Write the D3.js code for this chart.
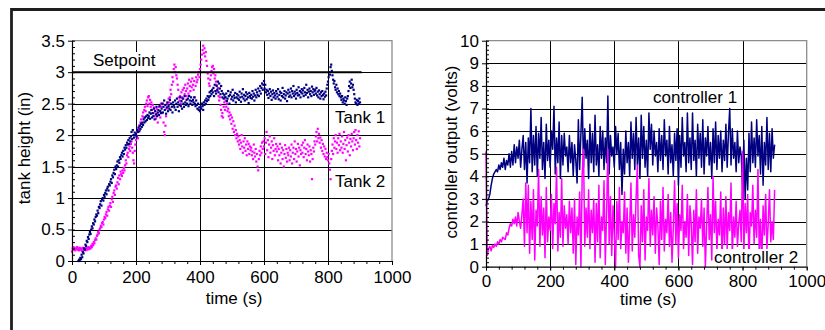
<!DOCTYPE html>
<html>
<head>
<meta charset="utf-8">
<script src="https://cdn.jsdelivr.net/npm/d3@7"></script>
<style>
  body { margin: 0; background: #fff; }
  svg { display: block; font-family: "Liberation Sans", Arial, sans-serif; }
</style>
</head>
<body>
<div id="chart"></div>
<script>
// ---- data ----
const timeTicks = [0, 200, 400, 600, 800, 1000];
const heightTicks = [0, 0.5, 1, 1.5, 2, 2.5, 3, 3.5];
const heightTickLabels = ["0", "0.5", "1", "1.5", "2", "2.5", "3", "3.5"];
const voltTicks = [0, 1, 2, 3, 4, 5, 6, 7, 8, 9, 10];

const setpointTimes = [0, 905];
const setpointValues = [3, 3];

// tank heights sampled every 2 s, 0..900 s (one row = 40 s)
const tankStep = 2;
const tank1 = [
  null, null, null, null, null, null, null, null, null, null, 0.0, 0.02, 0.0, 0.05, 0.03, 0.1, 0.06, 0.14, 0.12, 0.2,
  0.18, 0.26, 0.24, 0.32, 0.3, 0.38, 0.35, 0.42, 0.46, 0.43, 0.5, 0.55, 0.52, 0.6, 0.58, 0.66, 0.63, 0.7, 0.74, 0.72,
  0.8, 0.76, 0.86, 0.84, 0.9, 0.95, 0.88, 0.98, 1.0, 0.96, 1.05, 1.02, 1.08, 1.12, 1.06, 1.15, 1.18, 1.12, 1.22, 1.2,
  1.26, 1.3, 1.24, 1.36, 1.33, 1.4, 1.45, 1.38, 1.5, 1.46, 1.52, 1.58, 1.5, 1.6, 1.56, 1.65, 1.62, 1.68, 1.72, 1.66,
  1.75, 1.7, 1.8, 1.77, 1.84, 1.8, 1.88, 1.85, 1.92, 1.86, 1.95, 1.9, 1.98, 2.05, 1.94, 2.08, 2.0, 1.96, 2.04, 2.0,
  2.02, 1.98, 2.08, 2.05, 2.12, 2.06, 2.15, 2.1, 2.18, 2.13, 2.2, 2.16, 2.25, 2.2, 2.28, 2.22, 2.3, 2.24, 2.32, 2.27,
  2.3, 2.36, 2.26, 2.34, 2.4, 2.28, 2.35, 2.3, 2.42, 2.25, 2.38, 2.33, 2.45, 2.3, 2.36, 2.4, 2.32, 2.46, 2.38, 2.35,
  2.42, 2.5, 2.36, 2.45, 2.55, 2.4, 2.48, 2.34, 2.44, 2.52, 2.38, 2.46, 2.42, 2.56, 2.4, 2.5, 2.45, 2.36, 2.52, 2.47,
  2.44, 2.55, 2.4, 2.5, 2.58, 2.45, 2.52, 2.38, 2.48, 2.6, 2.46, 2.54, 2.42, 2.58, 2.5, 2.45, 2.62, 2.52, 2.48, 2.56,
  2.5, 2.58, 2.46, 2.62, 2.55, 2.5, 2.6, 2.54, 2.48, 2.56, 2.52, 2.6, 2.5, 2.46, 2.55, 2.48, 2.42, 2.5, 2.4, 2.44,
  2.38, 2.45, 2.42, 2.5, 2.46, 2.4, 2.52, 2.48, 2.55, 2.5, 2.58, 2.54, 2.62, 2.56, 2.6, 2.68, 2.62, 2.7, 2.65, 2.72,
  2.68, 2.75, 2.62, 2.8, 2.7, 2.66, 2.78, 2.72, 2.85, 2.68, 2.82, 2.74, 2.65, 2.78, 2.7, 2.6, 2.66, 2.58, 2.64, 2.6,
  2.6, 2.66, 2.54, 2.58, 2.7, 2.62, 2.5, 2.64, 2.68, 2.57, 2.61, 2.72, 2.55, 2.63, 2.59, 2.67, 2.52, 2.6, 2.65, 2.58,
  2.63, 2.56, 2.69, 2.6, 2.53, 2.66, 2.61, 2.73, 2.58, 2.64, 2.55, 2.62, 2.68, 2.57, 2.65, 2.6, 2.51, 2.67, 2.62, 2.59,
  2.64, 2.58, 2.7, 2.61, 2.66, 2.55, 2.63, 2.72, 2.6, 2.68, 2.64, 2.74, 2.62, 2.7, 2.78, 2.66, 2.75, 2.82, 2.72, 2.8,
  2.86, 2.74, 2.8, 2.68, 2.72, 2.64, 2.7, 2.59, 2.66, 2.73, 2.62, 2.69, 2.56, 2.65, 2.71, 2.6, 2.67, 2.63, 2.58, 2.7,
  2.66, 2.61, 2.73, 2.57, 2.64, 2.69, 2.55, 2.67, 2.62, 2.75, 2.6, 2.65, 2.7, 2.58, 2.63, 2.68, 2.54, 2.66, 2.72, 2.61,
  2.68, 2.63, 2.74, 2.6, 2.7, 2.66, 2.78, 2.62, 2.69, 2.65, 2.58, 2.72, 2.67, 2.63, 2.76, 2.64, 2.7, 2.6, 2.68, 2.73,
  2.66, 2.71, 2.62, 2.75, 2.68, 2.64, 2.8, 2.67, 2.72, 2.6, 2.69, 2.74, 2.65, 2.7, 2.62, 2.77, 2.68, 2.73, 2.64, 2.7,
  2.72, 2.66, 2.75, 2.63, 2.69, 2.6, 2.71, 2.65, 2.58, 2.68, 2.62, 2.7, 2.64, 2.57, 2.66, 2.61, 2.69, 2.63, 2.74, 2.8,
  2.85, 2.92, 3.0, 2.96, 3.08, 3.12, 3.02, 2.95, 2.88, 2.82, 2.86, 2.76, 2.72, 2.8, 2.68, 2.74, 2.65, 2.7, 2.62, 2.66,
  2.6, 2.56, 2.62, 2.52, 2.58, 2.55, 2.5, 2.6, 2.54, 2.48, 2.58, 2.62, 2.7, 2.78, 2.85, 2.75, 2.82, 2.88, 2.76, 2.8,
  2.72, 2.65, 2.58, 2.52, 2.5, 2.56, 2.48, 2.54, 2.5, 2.58, 2.52
];
const tank2 = [
  0.15, 0.2, 0.22, 0.18, 0.21, 0.17, 0.2, 0.19, 0.22, 0.18, 0.2, 0.17, 0.21, 0.19, 0.18, 0.2, 0.16, 0.21, 0.19, 0.18,
  0.2, 0.17, 0.19, 0.21, 0.18, 0.2, 0.22, 0.19, 0.21, 0.2, 0.24, 0.22, 0.27, 0.25, 0.3, 0.28, 0.33, 0.36, 0.34, 0.4,
  0.42, 0.46, 0.44, 0.5, 0.52, 0.56, 0.54, 0.6, 0.62, 0.58, 0.66, 0.7, 0.68, 0.74, 0.78, 0.72, 0.82, 0.86, 0.8, 0.88,
  0.92, 0.86, 0.98, 1.02, 0.94, 1.08, 1.12, 1.05, 1.18, 1.2, 1.15, 1.25, 1.32, 1.22, 1.36, 1.3, 1.42, 1.38, 1.35, 1.44,
  1.4, 1.48, 1.44, 1.52, 1.6, 1.55, 1.68, 1.72, 1.65, 1.78, 1.82, 1.75, 1.86, 1.9, 1.8, 1.72, 1.6, 1.55, 1.75, 1.85,
  1.92, 1.98, 2.05, 1.95, 2.1, 2.15, 2.08, 2.2, 2.25, 2.18, 2.3, 2.36, 2.28, 2.4, 2.45, 2.38, 2.5, 2.55, 2.46, 2.6,
  2.62, 2.5, 2.56, 2.45, 2.52, 2.4, 2.48, 2.35, 2.44, 2.3, 2.38, 2.26, 2.42, 2.34, 2.2, 2.32, 2.45, 2.38, 2.28, 2.5,
  2.45, 2.35, 2.5, 2.2, 2.05, 2.0, 2.15, 2.3, 2.42, 2.5, 2.45, 2.58, 2.52, 2.6, 2.72, 2.65, 2.8, 2.92, 2.85, 3.05,
  3.12, 3.0, 3.08, 2.95, 2.9, 2.8, 2.72, 2.6, 2.55, 2.62, 2.5, 2.68, 2.6, 2.72, 2.58, 2.75, 2.65, 2.8, 2.7, 2.62,
  2.74, 2.82, 2.66, 2.88, 2.78, 2.7, 2.85, 2.76, 2.9, 2.8, 2.72, 2.86, 2.6, 2.78, 2.92, 2.84, 2.88, 2.96, 3.0, 2.92,
  3.05, 3.12, 3.2, 3.28, 3.35, 3.42, 3.3, 3.38, 3.25, 3.32, 3.18, 3.1, 2.98, 2.9, 2.82, 2.78, 2.88, 2.95, 3.02, 3.08,
  3.1, 2.98, 3.05, 2.9, 2.95, 2.85, 2.8, 2.7, 2.75, 2.62, 2.55, 2.6, 2.48, 2.4, 2.3, 2.35, 2.28, 2.45, 2.52, 2.4,
  2.55, 2.45, 2.5, 2.38, 2.42, 2.3, 2.36, 2.25, 2.32, 2.18, 2.28, 2.1, 2.22, 2.05, 2.15, 2.0, 2.08, 1.95, 2.02, 1.9,
  1.98, 1.85, 1.92, 1.78, 1.88, 2.0, 1.82, 1.72, 1.9, 1.8, 1.95, 1.75, 1.85, 1.68, 1.9, 1.78, 1.86, 1.7, 1.82, 1.76,
  1.8, 1.68, 1.74, 1.62, 1.85, 1.72, 1.66, 1.78, 1.58, 1.7, 1.5, 1.44, 1.62, 1.75, 1.68, 1.82, 1.72, 1.88, 1.78, 1.9,
  1.82, 1.95, 1.7, 1.88, 2.05, 1.76, 1.92, 1.65, 1.85, 1.98, 1.72, 1.8, 1.9, 1.62, 1.84, 1.75, 1.95, 1.68, 1.78, 1.86,
  1.74, 1.82, 1.6, 1.78, 1.68, 1.86, 1.55, 1.72, 1.8, 1.62, 1.76, 1.5, 1.7, 1.84, 1.64, 1.78, 1.58, 1.72, 1.68, 1.8,
  1.6, 1.76, 1.66, 1.85, 1.55, 1.72, 1.8, 1.62, 1.9, 1.7, 1.78, 1.58, 1.74, 1.86, 1.66, 1.8, 1.52, 1.76, 1.7, 1.84,
  1.72, 1.88, 1.65, 1.8, 1.92, 1.7, 1.78, 1.6, 1.85, 1.74, 1.68, 1.82, 1.58, 1.76, 1.7, 1.3, 1.62, 1.8, 1.74, 1.9,
  1.85, 1.98, 2.05, 1.9, 2.1, 1.95, 2.02, 1.88, 1.96, 1.8, 1.92, 1.75, 1.86, 1.7, 1.82, 1.66, 1.78, 1.62, 1.72, 1.65,
  1.6, 1.7, 1.55, 1.45, 1.3, 1.62, 1.75, 1.85, 1.7, 1.95, 1.8, 1.9, 2.0, 1.78, 1.88, 1.72, 1.95, 1.84, 2.02, 1.76,
  1.9, 1.8, 1.98, 1.72, 1.86, 2.05, 1.78, 1.92, 1.6, 1.84, 1.96, 1.74, 2.0, 1.88, 1.68, 1.94, 1.82, 2.02, 1.9, 1.76,
  1.95, 2.05, 1.85, 2.08, 1.92, 1.78, 2.0, 1.88, 2.06, 1.82, 1.95
];

// controller outputs sampled every 4 s (one row = 40 s)
const controllerStep = 4;
const controller1 = [
  2.7, 2.9, 3.0, 3.2, 3.6, 3.9, 4.1, 4.2, 4.3, 4.2,
  4.5, 4.3, 4.6, 4.4, 4.8, 4.3, 4.7, 4.5, 5.0, 4.4,
  5.1, 4.5, 5.4, 4.6, 5.3, 4.8, 5.6, 4.4, 5.2, 5.8,
  4.3, 5.5, 3.7, 5.7, 4.6, 7.0, 4.2, 5.8, 4.5, 6.2,
  4.0, 5.9, 4.8, 6.6, 4.3, 5.5, 3.9, 6.3, 4.7, 5.6,
  4.4, 6.0, 5.2, 7.1, 4.1, 5.7, 4.6, 6.4, 3.9, 5.8,
  4.5, 5.9, 4.9, 5.3, 4.2, 5.8, 4.6, 5.5, 4.0, 5.4,
  4.7, 3.7, 6.5, 4.3, 5.9, 7.5, 4.4, 6.1, 4.8, 5.6,
  3.9, 6.3, 4.6, 5.9, 4.2, 6.7, 4.5, 5.4, 4.0, 6.2,
  4.8, 6.0, 4.3, 5.7, 4.6, 7.55, 4.1, 5.8, 4.9, 5.3,
  4.4, 6.2, 5.0, 5.9, 4.3, 5.5, 3.2, 5.2, 4.1, 6.0,
  4.6, 5.5, 4.0, 6.4, 4.8, 5.9, 4.3, 6.6, 4.5, 5.7,
  3.9, 6.7, 4.8, 6.2, 4.4, 5.6, 4.0, 6.8, 5.2, 6.3,
  4.5, 6.0, 4.9, 5.5, 4.2, 6.1, 4.7, 5.8, 4.3, 6.5,
  4.9, 5.6, 4.1, 6.2, 4.6, 5.4, 4.0, 5.9, 4.7, 6.1,
  3.6, 5.8, 4.4, 6.6, 4.9, 5.5, 4.2, 6.8, 4.6, 5.7,
  4.3, 6.8, 4.7, 5.6, 4.0, 6.3, 4.8, 5.9, 4.4, 6.5,
  4.1, 5.7, 4.9, 6.2, 4.5, 5.5, 3.9, 6.1, 4.6, 6.4,
  4.3, 5.8, 4.8, 6.0, 4.2, 5.6, 4.7, 6.3, 4.4, 5.9,
  7.0, 4.5, 6.1, 4.8, 5.5, 4.2, 6.0, 4.6, 5.3, 4.9,
  3.5, 5.6, 3.0, 4.8, 3.4, 5.9, 4.2, 6.4, 4.6, 5.7,
  4.4, 6.5, 4.9, 5.8, 4.1, 6.2, 3.6, 5.5, 4.5, 6.6,
  4.3, 5.9, 4.2, 6.1, 4.8, 5.4
];
const controller2 = [
  5.1, 0.5, 0.8, 0.9, 0.7, 0.95, 0.85, 1.0, 0.9, 1.1,
  1.0, 1.2, 1.1, 1.3, 1.25, 1.2, 1.5, 1.4, 1.7, 1.9,
  1.8, 2.1, 1.9, 2.2, 1.8, 2.4, 2.0, 1.7, 2.3, 3.0,
  0.9, 3.7, 1.5, 3.6, 0.6, 2.9, 1.2, 3.4, 0.3, 2.5,
  1.8, 4.3, 0.9, 3.1, 1.4, 2.6, 0.4, 3.5, 1.1, 2.2,
  1.6, 3.2, 0.8, 2.8, 1.9, 4.4, 0.7, 2.4, 1.3, 3.9,
  0.9, 2.7, 1.7, 2.3, 1.0, 2.9, 1.5, 2.6, 0.6, 3.0,
  0.1, 2.2, 1.4, 3.3, 0.0, 4.1, 5.2, 0.9, 2.6, 1.3,
  3.4, 0.8, 2.5, 1.5, 3.0, 0.2, 2.8, 1.1, 3.6, 0.4,
  2.2, 1.6, 3.8, 0.1, 2.4, 5.2, 1.0, 3.1, 0.5, 2.7,
  1.4, 0.0, 2.9, 1.2, 3.5, 0.8, 2.0, 1.5, 3.3, 0.6,
  2.6, 0.2, 1.8, 3.7, 0.7, 2.3, 1.3, 3.0, 4.5, 0.5,
  0.0, 2.7, 1.1, 3.4, 0.3, 2.2, 1.6, 3.9, 0.9, 2.5,
  1.4, 3.1, 0.6, 2.6, 1.8, 0.1, 2.9, 1.2, 3.5, 0.7,
  2.1, 1.5, 3.2, 0.9, 2.4, 0.2, 1.7, 3.8, 1.0, 2.8,
  0.4, 2.3, 1.6, 3.6, 0.8, 2.0, 1.3, 3.2, 0.5, 2.7,
  1.9, 0.1, 2.5, 1.1, 3.4, 0.6, 2.2, 1.7, 3.0, 0.9,
  2.6, 0.0, 1.8, 3.5, 1.2, 2.3, 0.3, 4.0, 1.5, 2.9,
  0.7, 2.1, 1.4, 3.3, 0.2, 2.6, 1.0, 3.1, 0.8, 2.4,
  1.6, 3.7, 0.5, 2.2, 1.3, 2.9, 0.9, 1.9, 2.5, 1.1,
  5.1, 0.6, 2.8, 1.5, 3.2, 0.2, 2.4, 1.8, 3.6, 1.0,
  2.5, 1.3, 4.3, 0.6, 2.1, 0.1, 2.7, 1.4, 3.2, 0.8,
  1.9, 3.4, 1.1, 2.0, 1.2, 3.4
];

const navy = "#000080";
const magenta = "#ff00ff";

// ---- drawing ----
const width = 825, height = 330;
const svg = d3.select("#chart").append("svg")
  .attr("width", width)
  .attr("height", height);

// outer frame (only top and left edges fall inside the picture)
svg.append("path")
  .attr("d", "M11.5,340V9.5H840")
  .attr("fill", "none")
  .attr("stroke", "#1e1e1e")
  .attr("stroke-width", 2.8);

function panel(cfg) {
  const x = d3.scaleLinear().domain([0, 1000]).range([cfg.left, cfg.right]);
  const y = d3.scaleLinear().domain([0, cfg.ymax]).range([cfg.bottom, cfg.top]);
  const g = svg.append("g");

  // grid
  g.append("g").selectAll("line")
    .data(cfg.yTicks.filter(d => d > 0 && d < cfg.ymax))
    .join("line")
    .attr("x1", cfg.left).attr("x2", cfg.right)
    .attr("y1", d => Math.round(y(d)) + 0.5).attr("y2", d => Math.round(y(d)) + 0.5)
    .attr("stroke", "#000").attr("stroke-width", 1);
  g.append("g").selectAll("line")
    .data(timeTicks.filter(d => d > 0 && d < 1000))
    .join("line")
    .attr("x1", d => Math.round(x(d)) + 0.5).attr("x2", d => Math.round(x(d)) + 0.5)
    .attr("y1", cfg.top).attr("y2", cfg.bottom)
    .attr("stroke", "#000").attr("stroke-width", 1);

  // plot border (top / right in grey)
  g.append("path")
    .attr("d", `M${cfg.left},${cfg.top}H${cfg.right}V${cfg.bottom}`)
    .attr("fill", "none").attr("stroke", "#8c8c8c").attr("stroke-width", 1.3);

  cfg.draw(g, x, y);

  // labels with white boxes
  cfg.labels.forEach(l => {
    const t = g.append("text")
      .attr("x", l.x).attr("y", l.y)
      .attr("font-size", 17)
      .text(l.text);
    const b = t.node().getBBox();
    g.insert("rect", () => t.node())
      .attr("x", b.x - 1).attr("y", b.y + 1)
      .attr("width", b.width + 2).attr("height", b.height - 1)
      .attr("fill", "#fff");
  });

  // axes
  const xAxis = g.append("g")
    .attr("transform", `translate(0,${cfg.bottom})`)
    .call(d3.axisBottom(x).tickValues(timeTicks).tickSize(4).tickPadding(cfg.xPad).tickFormat(d3.format("d")));
  const xMinor = g.append("g")
    .attr("transform", `translate(0,${cfg.bottom})`)
    .call(d3.axisBottom(x).tickValues(d3.range(0, 1001, 40)).tickSize(3).tickFormat(""));
  const yAxis = g.append("g")
    .attr("transform", `translate(${cfg.left},0)`)
    .call(d3.axisLeft(y).tickValues(cfg.yTicks).tickSize(4).tickPadding(3)
      .tickFormat((d, i) => cfg.yLabels[i]));
  const yMinor = g.append("g")
    .attr("transform", `translate(${cfg.left},0)`)
    .call(d3.axisRight(y).tickValues(d3.range(0, cfg.ymax + 1e-9, cfg.yMinor)).tickSize(3).tickFormat(""));
  [xAxis, xMinor, yAxis, yMinor].forEach(a => {
    a.select(".domain").remove();
    a.selectAll(".tick line").attr("stroke", "#000");
    a.selectAll("text")
      .attr("font-size", 17)
      .attr("font-family", '"Liberation Sans", Arial, sans-serif')
      .attr("fill", "#000");
  });
  g.append("path")
    .attr("d", `M${cfg.left + 0.5},${cfg.top}V${cfg.bottom + 0.5}H${cfg.right}`)
    .attr("fill", "none").attr("stroke", "#000").attr("stroke-width", 1.2);

  // titles
  g.append("text")
    .attr("x", (cfg.left + cfg.right) / 2 + 2).attr("y", cfg.xTitleY)
    .attr("text-anchor", "middle").attr("font-size", 17)
    .text("time (s)");
  g.append("text")
    .attr("transform", `translate(${cfg.yTitleX},${cfg.yTitleMid}) rotate(-90)`)
    .attr("text-anchor", "middle").attr("font-size", 17)
    .text(cfg.yTitle);
}

function dots(g, x, y, values, color) {
  g.append("g").selectAll("rect")
    .data(values.map((v, i) => [i * tankStep, v]).filter(d => d[1] !== null))
    .join("rect")
    .attr("x", d => x(d[0]) - 1.1)
    .attr("y", d => y(d[1]) - 1.1)
    .attr("width", 2.2).attr("height", 2.2)
    .attr("fill", color);
}

function trace(g, x, y, values, color) {
  const line = d3.line()
    .x(d => x(d[0]))
    .y(d => y(d[1]));
  g.append("path")
    .datum(values.map((v, i) => [i * controllerStep, v]))
    .attr("d", line)
    .attr("fill", "none")
    .attr("stroke", color)
    .attr("stroke-width", 1.5)
    .attr("stroke-linejoin", "round");
}

// left: tank heights
panel({
  left: 72, right: 392, top: 40.7, bottom: 261,
  ymax: 3.5, yTicks: heightTicks, yLabels: heightTickLabels, yMinor: 0.1,
  xPad: 6, xTitleY: 304, yTitleX: 30, yTitleMid: 148,
  yTitle: "tank height (in)",
  labels: [
    { text: "Setpoint", x: 93, y: 66 },
    { text: "Tank 1", x: 335, y: 123 },
    { text: "Tank 2", x: 335, y: 187 }
  ],
  draw: (g, x, y) => {
    dots(g, x, y, tank2, magenta);
    dots(g, x, y, tank1, navy);
    g.append("path")
      .datum(setpointTimes.map((t, i) => [t, setpointValues[i]]))
      .attr("d", d3.line().x(d => x(d[0])).y(d => y(d[1])))
      .attr("stroke", "#000").attr("stroke-width", 2).attr("fill", "none");
  }
});

// right: controller outputs
panel({
  left: 486, right: 806.7, top: 40.7, bottom: 266.7,
  ymax: 10, yTicks: voltTicks, yLabels: voltTicks.map(String), yMinor: 0.2,
  xPad: 4.3, xTitleY: 305, yTitleX: 457, yTitleMid: 152,
  yTitle: "controller output (volts)",
  labels: [
    { text: "controller 1", x: 653, y: 103 },
    { text: "controller 2", x: 714, y: 263 }
  ],
  draw: (g, x, y) => {
    trace(g, x, y, controller1, navy);
    trace(g, x, y, controller2, magenta);
  }
});
</script>
</body>
</html>
